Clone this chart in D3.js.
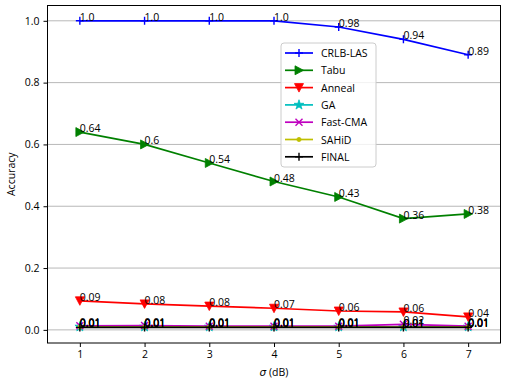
<!DOCTYPE html>
<html>
<head>
<meta charset="utf-8">
<script src="https://cdn.jsdelivr.net/npm/d3@7"></script>
<style>
  body { margin: 0; background: #fff; }
  text { font-family: "Open Sans", sans-serif; }
</style>
</head>
<body>
<div id="chart"></div>
<script>
// values
const sigma = [1, 2, 3, 4, 5, 6, 7];
const seriesNames = ["CRLB-LAS", "Tabu", "Anneal", "GA", "Fast-CMA", "SAHiD", "FINAL"];
const crlbLas = [1.0, 1.0, 1.0, 1.0, 0.98, 0.94, 0.89];
const tabu = [0.64, 0.6, 0.54, 0.48, 0.43, 0.36, 0.375];
const anneal = [0.094, 0.084, 0.077, 0.07, 0.061, 0.058, 0.042];
const ga = [0.01, 0.01, 0.01, 0.01, 0.01, 0.01, 0.01];
const fastCma = [0.013, 0.014, 0.012, 0.012, 0.012, 0.018, 0.012];
const sahid = [0.009, 0.009, 0.009, 0.009, 0.009, 0.009, 0.009];
const final = [0.008, 0.008, 0.008, 0.008, 0.008, 0.008, 0.008];
const yTicks = [0.0, 0.2, 0.4, 0.6, 0.8, 1.0];

const seriesValues = [crlbLas, tabu, anneal, ga, fastCma, sahid, final];
const colors = ["#0000ff", "#008000", "#ff0000", "#00bfbf", "#bf00bf", "#bfbf00", "#000000"];
const markers = ["plus", "right", "down", "star", "x", "dot", "plus"];

const width = 512, height = 388;
const box = { left: 47.5, right: 500.5, top: 5.5, bottom: 343 };
const fontSize = 10.5;

const svg = d3.select("#chart").append("svg")
  .attr("width", width)
  .attr("height", height);

const x = d3.scaleLinear().domain([0.5, 7.5]).range([box.left, box.right]);
const y = d3.scaleLinear().domain([-0.0425, 1.0495]).range([box.bottom, box.top]);

// grid
svg.append("g").selectAll("line")
  .data(yTicks)
  .join("line")
  .attr("x1", box.left).attr("x2", box.right)
  .attr("y1", d => y(d)).attr("y2", d => y(d))
  .attr("stroke", "#b0b0b0")
  .attr("stroke-width", 0.9);

function markerPath(type) {
  switch (type) {
    case "plus": return "M-4,0H4M0,-4V4";
    case "x": return "M-3.5,-3.5L3.5,3.5M-3.5,3.5L3.5,-3.5";
    case "right": return "M4.5,0L-4,-4.5L-4,4.5Z";
    case "down": return "M-4.5,-4L4.5,-4L0,4.5Z";
    case "star": return d3.symbol(d3.symbolStar, 30)();
    case "dot": return d3.symbol(d3.symbolCircle, 14)();
  }
}

function drawMarker(g, type, color) {
  const filled = type !== "plus" && type !== "x";
  g.append("path")
    .attr("d", markerPath(type))
    .attr("fill", filled ? color : "none")
    .attr("stroke", color)
    .attr("stroke-width", filled ? 0.8 : 1.4);
}

const line = d3.line()
  .x((d, i) => x(sigma[i]))
  .y(d => y(d));

const plot = svg.append("g");
seriesValues.forEach((vals, k) => {
  const g = plot.append("g");
  g.append("path")
    .attr("d", line(vals))
    .attr("fill", "none")
    .attr("stroke", colors[k])
    .attr("stroke-width", 1.7);
  vals.forEach((v, i) => {
    const m = g.append("g").attr("transform", `translate(${x(sigma[i])},${y(v)})`);
    drawMarker(m, markers[k], colors[k]);
  });
});

function fmt(v) {
  const r = Math.round(v * 100) / 100;
  return Number.isInteger(r) ? r.toFixed(1) : String(r);
}

// value labels
const labels = svg.append("g");
seriesValues.forEach(vals => {
  vals.forEach((v, i) => {
    labels.append("text")
      .attr("x", x(sigma[i]))
      .attr("y", y(v))
      .attr("font-size", fontSize)
      .attr("fill", "#000")
      .text(fmt(v));
  });
});

// frame
svg.append("rect")
  .attr("x", box.left).attr("y", box.top)
  .attr("width", box.right - box.left)
  .attr("height", box.bottom - box.top)
  .attr("fill", "none")
  .attr("stroke", "#000")
  .attr("stroke-width", 1);

// axes
const xAxis = svg.append("g")
  .attr("transform", `translate(0,${box.bottom})`)
  .call(d3.axisBottom(x).tickValues(sigma).tickFormat(d3.format("d")).tickSizeOuter(0).tickSize(4).tickPadding(4));
const yAxis = svg.append("g")
  .attr("transform", `translate(${box.left},0)`)
  .call(d3.axisLeft(y).tickValues(yTicks).tickFormat(d3.format(".1f")).tickSizeOuter(0).tickSize(4).tickPadding(4));
[xAxis, yAxis].forEach(a => {
  a.select(".domain").remove();
  a.selectAll("text").attr("font-size", fontSize).attr("font-family", "Open Sans").attr("fill", "#000");
  a.selectAll("line").attr("stroke", "#000");
});

svg.append("text")
  .attr("x", (box.left + box.right) / 2)
  .attr("y", 376)
  .attr("text-anchor", "middle")
  .attr("font-size", fontSize)
  .html('<tspan font-style="italic" font-family="DejaVu Sans">σ</tspan> (dB)');

svg.append("text")
  .attr("transform", `translate(15,${(box.top + box.bottom) / 2}) rotate(-90)`)
  .attr("text-anchor", "middle")
  .attr("font-size", fontSize)
  .text("Accuracy");

// legend
const legend = svg.append("g").attr("transform", "translate(281,43)");
legend.append("rect")
  .attr("width", 95).attr("height", 124)
  .attr("rx", 3)
  .attr("fill", "#fff").attr("fill-opacity", 0.8)
  .attr("stroke", "#cccccc");
seriesNames.forEach((name, k) => {
  const row = legend.append("g").attr("transform", `translate(0,${10 + k * 17.3})`);
  row.append("line")
    .attr("x1", 4).attr("x2", 32)
    .attr("stroke", colors[k]).attr("stroke-width", 1.7);
  drawMarker(row.append("g").attr("transform", "translate(18,0)"), markers[k], colors[k]);
  row.append("text")
    .attr("x", 40).attr("y", 4)
    .attr("font-size", fontSize)
    .text(name);
});
</script>
</body>
</html>
